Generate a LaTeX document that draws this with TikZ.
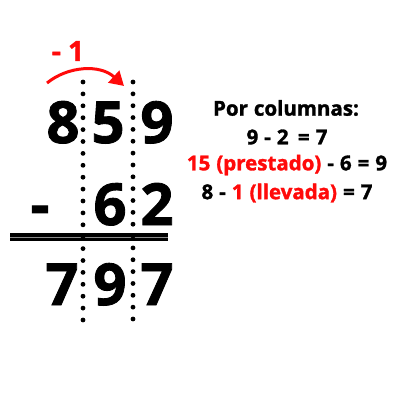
\documentclass[tikz,border=0pt]{standalone}
\usepackage{fontspec}
\setmainfont{Open Sans}[BoldFeatures={FakeBold=1.5}]
\usetikzlibrary{arrows.meta}
\definecolor{myred}{RGB}{255,10,10}
\newcommand\mysidefont{\fontsize{20.5}{22}\selectfont\bfseries\spaceskip=6pt\relax}
\begin{document}
\begin{tikzpicture}[x=1pt,y=-1pt,
  big/.style={font=\fontsize{58}{58}\selectfont\bfseries, inner sep=0pt, anchor=base},
  side/.style={font=\mysidefont, inner sep=0pt},
  dotc/.style={fill=black}]
\useasboundingbox[fill=white] (0,0) rectangle (401,400);
% row 1
\node[big] (d8) at (63,143) {8};
\node[big] (d5) at (108,143) {5};
\node[big] (d9) at (157,143) {9};
% row 2
\node[big] (m) at (40,225) {-};
\node[big] (d6) at (110,225) {6};
\node[big] (d2) at (157,225) {2};
% row 3
\node[big] (r7a) at (62,305) {7};
\node[big] (r9) at (110,305) {9};
\node[big] (r7b) at (157,305) {7};
% double line
\draw[line width=7.2pt] (10,237) -- (168,237);
\draw[line width=0.7pt, black!45] (10,237) -- (168,237);
% dotted columns
\foreach \i in {0,...,20} \fill[dotc] (83,82+\i*11.9) circle (2.4);
\foreach \i in {0,...,20} \fill[dotc] (133,82+\i*11.85) circle (2.4);
% borrow arrow
\node[font=\fontsize{28}{28}\selectfont\bfseries, text=myred, inner sep=0pt] (b) at (68,51) {- 1};
\coordinate (as) at (47,83);
\coordinate (ae) at (124,86);
\draw[myred, line width=3pt, -{Triangle[length=14pt,width=16pt]}] (as) .. controls (68,66) and (100,64) .. (ae);
% side text
\node[side] (t1) at (286,108) {Por columnas:};
\node[side] (t2) at (287,137) {9 - 2 \,= 7};
\node[side] (t3) at (287,165) {\textcolor{myred}{15 (prestado)} - 6 = 9};
\node[side] (t4) at (287,193) {8 - \textcolor{myred}{1 (llevada)} = 7};
\end{tikzpicture}
\end{document}
